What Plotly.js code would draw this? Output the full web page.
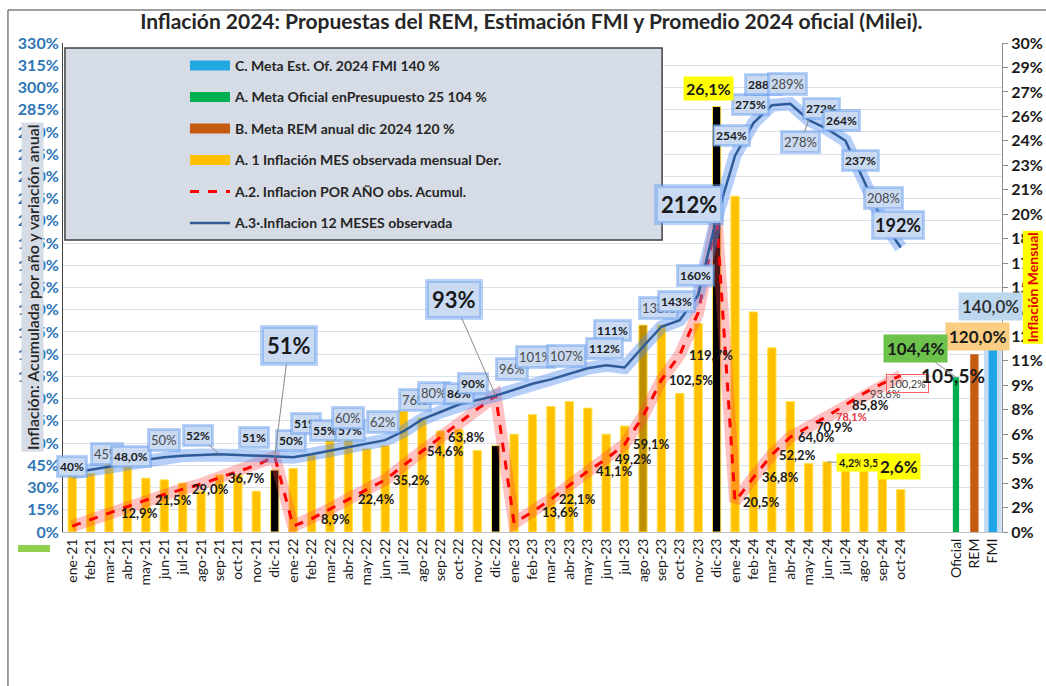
<!DOCTYPE html>
<html><head><meta charset="utf-8">
<script src="https://cdn.plot.ly/plotly-3.0.1.min.js"></script>
<style>html,body{margin:0;padding:0;background:#fff}#chart{width:1046px;height:686px}</style>
</head><body><div id="chart"></div>
<script>
// ---------------- DATA ----------------
const months = ['ene-21','feb-21','mar-21','abr-21','may-21','jun-21','jul-21','ago-21','sep-21','oct-21','nov-21','dic-21',
  'ene-22','feb-22','mar-22','abr-22','may-22','jun-22','jul-22','ago-22','sep-22','oct-22','nov-22','dic-22',
  'ene-23','feb-23','mar-23','abr-23','may-23','jun-23','jul-23','ago-23','sep-23','oct-23','nov-23','dic-23',
  'ene-24','feb-24','mar-24','abr-24','may-24','jun-24','jul-24','ago-24','sep-24','oct-24'];
const spacerCats = [' ', '  '];
const targetCats = ['Oficial','REM','FMI'];

// A.1 monthly inflation (right axis, %)
const monthlyInfl = [4.0,3.6,4.8,4.1,3.3,3.2,3.0,2.5,3.5,3.5,2.5,3.8,
  3.9,4.7,6.7,6.0,5.1,5.3,7.4,7.0,6.2,6.3,5.0,5.3,
  6.0,7.2,7.7,8.0,7.6,6.0,6.5,12.7,12.7,8.5,12.8,26.1,
  20.6,13.5,11.3,8.0,4.2,4.3,4.0,4.0,3.5,2.6];
// A.2 accumulated in the year (left axis, %)
const accumYear = [4.0,8.4,12.9,17.3,21.5,25.3,29.0,32.3,36.7,41.0,45.0,50.9,
  3.9,8.9,15.5,22.4,28.5,35.2,45.0,54.6,63.8,74.0,83.0,92.0,
  6.0,13.6,22.1,31.5,41.1,49.2,59.1,78.0,102.5,119.7,148.0,212.0,
  20.5,36.8,52.2,64.0,70.9,78.1,85.8,93.6,100.2,105.5];
// A.3 12-month inflation (left axis, %)
const yoy12m = [40,42,44,47,49,50.5,51.5,52,52.5,52,51.5,50.9,
  50.5,52.5,55,57,59.5,62,68,76,81,86,89,92,
  96,100,103,106.5,110.5,112.5,111,125,138.5,143,160,212,
  254,276,288,289,278,272,264,237,210,192];
// targets (left axis, %)
const targetVals = [104.4, 120.0, 140.0];

const seriesNames = ['C. Meta Est. Of. 2024 FMI 140 %','A. Meta Oficial enPresupuesto 25 104 %','B. Meta REM anual dic 2024 120 %',
  'A. 1 Inflación MES observada mensual Der.','A.2. Inflacion POR AÑO obs. Acumul.','A.3·.Inflacion 12 MESES observada'];

// ---------------- STYLE ----------------
const FONT = 'Lato, "Open Sans", sans-serif';
const allCats = months.concat(spacerCats, targetCats);
const barColors = months.map(m => m.startsWith('dic') ? '#000000' : (m === 'ago-23' ? '#BF8F00' : '#FFC000'));
const targetColors = ['#00B050', '#C55A11', '#1EA5E8'];
const legendColors = ['#22A7E0', '#00B050', '#C55A11', '#FFC000'];
const targetGroup = ['g1', 'g2', 'g0'];

const traces = [];
// legend-only entries for the bar series (wide swatches)
legendColors.forEach((c, k) => {
  traces.push({type:'scatter', mode:'lines', x:[null], y:[null], yaxis:'y2', name: seriesNames[k],
    line:{color:c, width:11}, legendgroup:'g'+k, showlegend:true, hoverinfo:'skip'});
});
// monthly bars (base axis y, right side)
traces.push({type:'bar', x:months, y:monthlyInfl, yaxis:'y', width:0.45, showlegend:false, legendgroup:'g3',
  marker:{color:barColors, line:{color:'#FFE14D', width:1}}});
// target bars on left axis (FMI gets a light halo bar behind it)
traces.push({type:'bar', x:[targetCats[2]], y:[targetVals[2]], yaxis:'y2', width:0.95, showlegend:false, legendgroup:'g0',
  marker:{color:'#C3DBF3', line:{width:0}}});
targetCats.forEach((c, i) => {
  traces.push({type:'bar', x:[c], y:[targetVals[i]], yaxis:'y2', width: i===0 ? 0.34 : 0.45, showlegend:false, legendgroup:targetGroup[i],
    marker:{color:targetColors[i], line:{width:0}}});
});
// red accumulated line with glow
traces.push({type:'scatter', mode:'lines', x:months, y:accumYear, yaxis:'y2', showlegend:false, hoverinfo:'skip', legendgroup:'g4',
  line:{color:'rgba(255,70,70,0.33)', width:12}});
traces.push({type:'scatter', mode:'lines', x:months, y:accumYear, yaxis:'y2', name:seriesNames[4], legendgroup:'g4',
  line:{color:'#FF0000', width:3, dash:'dash'}});
// blue 12-month line with glow
traces.push({type:'scatter', mode:'lines', x:months, y:yoy12m, yaxis:'y2', showlegend:false, hoverinfo:'skip', legendgroup:'g5',
  line:{color:'rgba(80,140,240,0.42)', width:13}});
traces.push({type:'scatter', mode:'lines', x:months, y:yoy12m, yaxis:'y2', name:seriesNames[5], legendgroup:'g5',
  line:{color:'#2F5C98', width:2.5}});

// ---------------- LABELS ----------------
const ann = [];
const boxB = {bgcolor:'#C9DAF2', bordercolor:'rgba(100,155,240,0.45)', borderwidth:3, borderpad:1};
const styles = {
  b:  Object.assign({font:{family:FONT, size:12, color:'#1a1a1a', weight:700}}, boxB),
  g:  Object.assign({font:{family:FONT, size:13, color:'#4a4a4a', weight:400}}, boxB),
  B:  Object.assign({font:{family:FONT, size:18, color:'#1a1a1a', weight:700}}, boxB),
  BIG:Object.assign({font:{family:FONT, size:22, color:'#1a1a1a', weight:700}}, boxB, {borderwidth:4, borderpad:3}),
};
function addLabel(x, y, yref, text, dx, dy, st, arrow) {
  const a = Object.assign({x:x, y:y, xref:'x', yref:yref, text:text}, st);
  if (arrow) {
    Object.assign(a, {showarrow:true, arrowhead:0, arrowwidth:1, arrowcolor:'#8a8a8a', ax:dx, ay:dy, standoff:0});
  } else {
    Object.assign(a, {showarrow:false, xshift:dx, yshift:-dy, xanchor:'center', yanchor:'middle'});
  }
  ann.push(a);
}
// 12-month line labels: [index, text, dx, dy, style, arrow]
const blueLabels = [
  [0,'40%',0,-6,'b'],[2,'45%',-2,-13,'g'],[3,'48,0%',4,-6,'b'],[5,'50%',0,-17,'g'],[8,'52%',-22,-19,'b',true],
  [10,'51%',-2,-18,'b'],[12,'50%',-2,-17,'b'],[13,'51%',-6,-31,'b'],[14,'55%',-5,-20,'b'],[15,'57%',2,-17,'b'],
  [16,'60%',-19,-26,'g'],[17,'62%',-2,-18,'g'],[19,'76%',-7,-19,'g'],[20,'80%',-6,-19,'g'],[21,'86%',0,-11,'b'],
  [22,'90%',-4,-17,'b'],[24,'96%',-2,-21,'g'],[25,'101%',3,-27,'g'],[27,'107%',-3,-18,'g'],[30,'111%',-12,-37,'b'],
  [29,'112%',-2,-17,'b'],[32,'138%',-3,-19,'g'],[33,'143%',-3,-19,'b'],[34,'160%',-3,-19,'b'],
  [36,'254%',-4,-20,'b'],[37,'275%',-3,-19,'b'],[38,'288%',-8,-21,'b'],[39,'289%',-3,-20,'g'],[41,'272%',-6,-20,'b'],
  [42,'264%',-4,-20,'b'],[40,'278%',-8,22,'g',true],[43,'237%',-3,-20,'b'],[44,'208%',1,-23,'g'],[45,'192%',-3,-22,'B'],
  [11,'51%',14,-111,'BIG',true],[23,'93%',-42,-96,'BIG',true],[35,'212%',-28,-13,'BIG']
];
blueLabels.forEach(l => addLabel(months[l[0]], yoy12m[l[0]], 'y2', l[1], l[2], l[3], styles[l[4]], l[5]));

// accumulated labels: [index, text, dx, kind]
const redLabels = [
  [2,'12,9%',30],[4,'21,5%',28],[6,'29,0%',28],[8,'36,7%',27],[13,'8,9%',24],[15,'22,4%',28],[17,'35,2%',26],
  [19,'54,6%',23],[20,'63,8%',26],[25,'13,6%',28],[26,'22,1%',27],[28,'41,1%',27],[29,'49,2%',27],[30,'59,1%',27],
  [32,'102,5%',30],[33,'119,7%',31],[36,'20,5%',26],[37,'36,8%',27],[38,'52,2%',26],[39,'64,0%',26],[40,'70,9%',26],
  [41,'78,1%',24,'red'],[42,'85,8%',25],[43,'93,6%',22,'small'],[44,'100,2%',25,'box'],[45,'105,5%',52,'big']
];
redLabels.forEach(l => {
  let st = {font:{family:FONT, size:13, color:'#1a1a1a', weight:700}};
  if (l[3]==='red') st = {font:{family:FONT, size:11, color:'#E8383D', weight:700}};
  if (l[3]==='small') st = {font:{family:FONT, size:11, color:'#404040', weight:400}};
  if (l[3]==='box') st = {font:{family:FONT, size:11, color:'#404040', weight:400}, bordercolor:'#FF6060', borderwidth:1, borderpad:2};
  if (l[3]==='big') st = {font:{family:FONT, size:19, color:'#1a1a1a', weight:700}};
  addLabel(months[l[0]], accumYear[l[0]], 'y2', l[1], l[2], 0, st, false);
});

// monthly bar labels
const yel = {bgcolor:'#FFFF00', borderpad:2};
addLabel(months[41], monthlyInfl[41], 'y', '4,2%', 24, 1, Object.assign({font:{family:FONT,size:11,color:'#1a1a1a',weight:700}}, yel), true);
addLabel(months[43], monthlyInfl[43], 'y', '3,5%', 11, -4, Object.assign({font:{family:FONT,size:11,color:'#1a1a1a',weight:700}}, yel), false);
addLabel(months[45], monthlyInfl[45], 'y', '2,6%', -2, -23, Object.assign({font:{family:FONT,size:17,color:'#1a1a1a',weight:700}}, yel), false);
addLabel(months[35], monthlyInfl[35], 'y', '26,1%', -8, -18, Object.assign({font:{family:FONT,size:16,color:'#1a1a1a',weight:700}}, yel), false);

// target labels
addLabel(targetCats[2], targetVals[2], 'y2', '140,0%', -2, -18, {font:{family:FONT,size:17,color:'#2a2a2a',weight:600}, bgcolor:'#BDD7EE', borderpad:3}, false);
addLabel(targetCats[1], targetVals[1], 'y2', '120,0%', 3, -18, {font:{family:FONT,size:17,color:'#1a1a1a',weight:700}, bgcolor:'#F9CD82', borderpad:3}, false);
addLabel(targetCats[0], targetVals[0], 'y2', '104,4%', -40, -29, {font:{family:FONT,size:17,color:'#1a1a1a',weight:700}, bgcolor:'#6CC24A', borderpad:3}, true);

// axis titles
ann.push({xref:'paper', yref:'paper', x:-0.0447, y:0.5, showarrow:false, textangle:-90,
  text:'Inflación: Acumulada por año y variación anual', bgcolor:'#D6DCE5', borderpad:1,
  font:{family:FONT, size:16, color:'#262626', weight:600}});
ann.push({xref:'paper', yref:'paper', x:1.044, y:0.5, showarrow:false, textangle:-90,
  text:'Inflación Mensual', bgcolor:'#FFFF00', borderpad:1,
  font:{family:FONT, size:14, color:'#E00000', weight:700}});

const layout = {
  width:1046, height:686, autosize:false,
  margin:{l:63, r:44, t:43, b:154},
  paper_bgcolor:'#ffffff', plot_bgcolor:'#ffffff',
  title:{text:'Inflación 2024: Propuestas del REM, Estimación FMI y Promedio 2024 oficial (Milei).',
    x:0.508, xref:'container', xanchor:'center', y:0.968, yref:'container', yanchor:'middle',
    font:{family:FONT, size:21, color:'#262626', weight:700}},
  barmode:'overlay',
  showlegend:true,
  legend:{x:0.1299, y:0.986, xanchor:'left', yanchor:'top', bgcolor:'rgba(0,0,0,0)', borderwidth:0,
    font:{family:FONT, size:14, color:'#262626', weight:700}, tracegroupgap:10.3, itemwidth:40, traceorder:'grouped'},
  xaxis:{type:'category', categoryorder:'array', categoryarray:allCats, range:[-0.5, allCats.length-0.5],
    tickangle:-90, tickfont:{family:FONT, size:14, color:'#1a1a1a'}, showline:true, linecolor:'#BFBFBF',
    ticks:'', showgrid:false, zeroline:false, fixedrange:true},
  yaxis:{side:'right', range:[0,30], tick0:0, dtick:1.5, tickformat:'.0f', ticksuffix:'%',
    tickfont:{family:FONT, size:16, color:'#1a1a1a', weight:700}, showgrid:false, zeroline:false,
    showline:true, linecolor:'#8C8C8C', ticks:'outside', ticklen:5, tickcolor:'#8C8C8C'},
  yaxis2:{overlaying:'y', side:'left', range:[0,330], tick0:0, dtick:15, ticksuffix:'%',
    tickfont:{family:FONT, size:16, color:'#2E75B6', weight:700}, showgrid:true, gridcolor:'#D9E1EC',
    zeroline:false, showline:true, linecolor:'#404040', ticks:''},
  shapes:[
    {type:'rect', xref:'paper', yref:'paper', x0:-0.0586, x1:1.06, y0:-0.4, y1:1.0675, line:{color:'#404040', width:1}, fillcolor:'rgba(0,0,0,0)'},
    {type:'rect', xref:'paper', yref:'paper', x0:0.0021, x1:0.638, y0:0.597, y1:0.9898, line:{color:'#404040', width:1.5}, fillcolor:'#D6DCE5', layer:'above'},
    {type:'rect', xref:'paper', yref:'paper', x0:-0.0479, x1:-0.0138, y0:-0.0409, y1:-0.0266, line:{width:0}, fillcolor:'#92D050'}
  ],
  annotations:ann
};
Plotly.newPlot('chart', traces, layout, {displayModeBar:false, staticPlot:true});
</script></body></html>
